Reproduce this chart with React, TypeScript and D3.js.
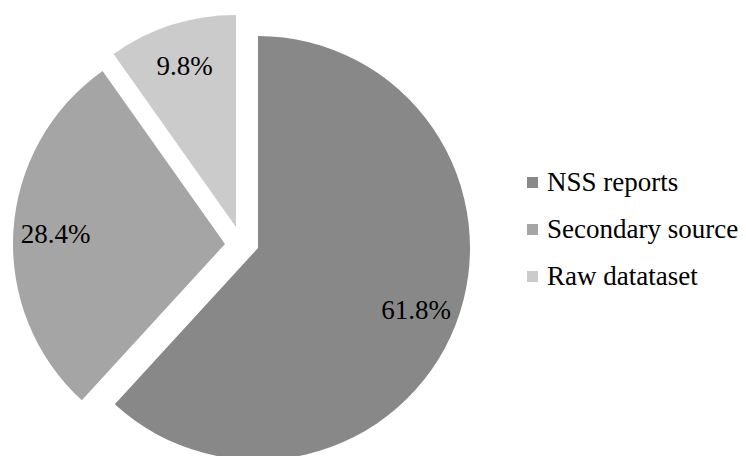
import React, { useEffect, useRef } from "react";
import * as d3 from "d3";

// chart data
const categories = ["NSS reports", "Secondary source", "Raw datataset"];
const shares = [61.8, 28.4, 9.8];
const sliceColors = ["#888888", "#a5a5a5", "#cbcbcb"];
// how far each slice is pulled out of the pie (px)
const explode = [
  [0, 0],
  [-33, -4],
  [-22, -21],
];

const App = () => {
  const svgRef = useRef<SVGSVGElement>(null);

  useEffect(() => {
    // Clears anything previously drawn inside the SVG
    d3.select(svgRef.current).selectAll("*").remove();

    const width = 746;
    const height = 456;
    const cx = 258;
    const cy = 248;
    const radius = 212;
    const font = "Liberation Serif, Times New Roman, serif";

    const svg = d3
      .select(svgRef.current)
      .attr("width", width)
      .attr("height", height);

    const pie = d3
      .pie<number>()
      .sort(null)
      .value((d) => d);

    const arcs = pie(shares);

    const arc = d3.arc<d3.PieArcDatum<number>>().innerRadius(0).outerRadius(radius);
    // labels sit at ~80% of radius along the bisector
    const labelArc = d3
      .arc<d3.PieArcDatum<number>>()
      .innerRadius(radius * 0.8)
      .outerRadius(radius * 0.8);

    const slices = svg
      .append("g")
      .selectAll("g")
      .data(arcs)
      .join("g")
      .attr(
        "transform",
        (d, i) => `translate(${cx + explode[i][0]}, ${cy + explode[i][1]})`
      );

    slices
      .append("path")
      .attr("d", arc)
      .attr("fill", (d, i) => sliceColors[i]);

    slices
      .append("text")
      .attr("transform", (d) => `translate(${labelArc.centroid(d)})`)
      .attr("text-anchor", "middle")
      .attr("dy", "0.34em")
      .style("font-family", font)
      .style("font-size", "27px")
      .attr("fill", "#000")
      .text((d) => `${d.data.toFixed(1)}%`);

    // Legend
    const legendY = d3
      .scalePoint<string>()
      .domain(categories)
      .range([191, 285]);

    const legend = svg
      .append("g")
      .selectAll("g")
      .data(categories)
      .join("g")
      .attr("transform", (d) => `translate(527, ${legendY(d)})`);

    legend
      .append("rect")
      .attr("x", 0)
      .attr("y", -14)
      .attr("width", 11)
      .attr("height", 11)
      .attr("fill", (d, i) => sliceColors[i]);

    legend
      .append("text")
      .attr("x", 20)
      .attr("y", 0)
      .style("font-family", font)
      .style("font-size", "27px")
      .attr("fill", "#000")
      .text((d) => d);
  }, []);

  return (
    <svg
      ref={svgRef}
      style={{ position: "absolute", left: 0, top: 0, background: "#fff" }}
    />
  );
};

export default App;
